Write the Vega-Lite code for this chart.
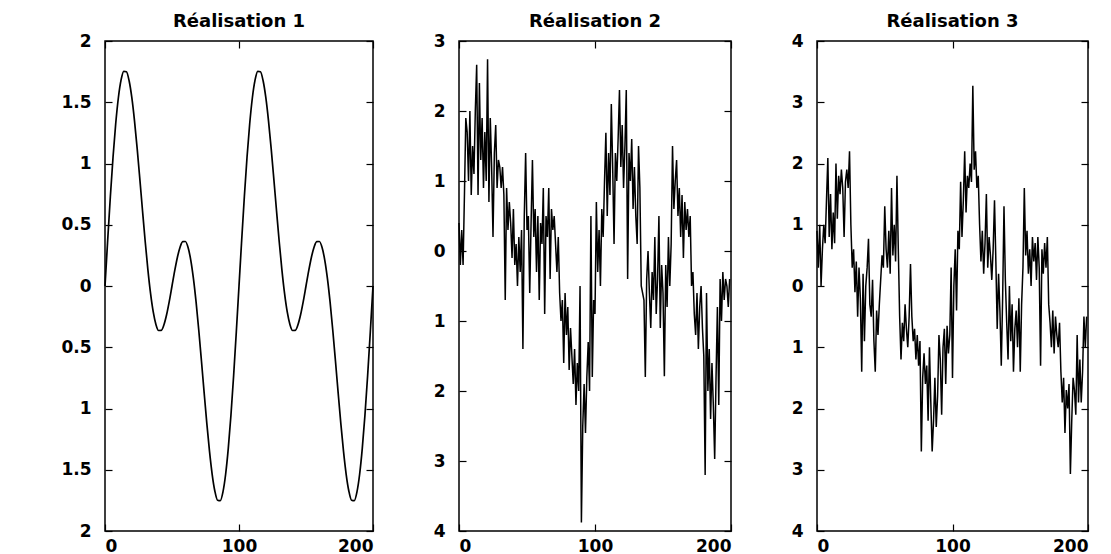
{
"$schema":"https://vega.github.io/schema/vega-lite/v6.json",
"background":"white",
"padding":{"left":60,"top":12,"right":10,"bottom":2},
"bounds":"flush",
"spacing":86,
"config":{
 "view":{"stroke":"black","strokeWidth":1.5},
 "axis":{"domain":false,"grid":false,"title":null,"tickColor":"black","tickSize":-7,"tickWidth":1.2,"labelFont":"DejaVu Sans","labelFontWeight":"bold","labelFontSize":17,"labelColor":"black","labelPadding":21},
 "title":{"font":"DejaVu Sans","fontWeight":"bold","fontSize":18,"color":"black","offset":1,"anchor":"middle"}
},
"datasets":{
"p1":[{"t":0,"v":0},{"t":2,"v":0.374},{"t":4,"v":0.7305},{"t":6,"v":1.0526},{"t":8,"v":1.3261},{"t":10,"v":1.5389},{"t":12,"v":1.6825},{"t":14,"v":1.7528},{"t":16,"v":1.7491},{"t":18,"v":1.6753},{"t":20,"v":1.5389},{"t":22,"v":1.3504},{"t":24,"v":1.1233},{"t":26,"v":0.8727},{"t":28,"v":0.6142},{"t":30,"v":0.3633},{"t":32,"v":0.1343},{"t":34,"v":-0.0605},{"t":36,"v":-0.2118},{"t":38,"v":-0.3135},{"t":40,"v":-0.3633},{"t":42,"v":-0.3625},{"t":44,"v":-0.3164},{"t":46,"v":-0.2331},{"t":48,"v":-0.1234},{"t":50,"v":0},{"t":52,"v":0.1234},{"t":54,"v":0.2331},{"t":56,"v":0.3164},{"t":58,"v":0.3625},{"t":60,"v":0.3633},{"t":62,"v":0.3135},{"t":64,"v":0.2118},{"t":66,"v":0.0605},{"t":68,"v":-0.1343},{"t":70,"v":-0.3633},{"t":72,"v":-0.6142},{"t":74,"v":-0.8727},{"t":76,"v":-1.1233},{"t":78,"v":-1.3504},{"t":80,"v":-1.5389},{"t":82,"v":-1.6753},{"t":84,"v":-1.7491},{"t":86,"v":-1.7528},{"t":88,"v":-1.6825},{"t":90,"v":-1.5389},{"t":92,"v":-1.3261},{"t":94,"v":-1.0526},{"t":96,"v":-0.7305},{"t":98,"v":-0.374},
{"t":100,"v":0},{"t":102,"v":0.374},{"t":104,"v":0.7305},{"t":106,"v":1.0526},{"t":108,"v":1.3261},{"t":110,"v":1.5389},{"t":112,"v":1.6825},{"t":114,"v":1.7528},{"t":116,"v":1.7491},{"t":118,"v":1.6753},{"t":120,"v":1.5389},{"t":122,"v":1.3504},{"t":124,"v":1.1233},{"t":126,"v":0.8727},{"t":128,"v":0.6142},{"t":130,"v":0.3633},{"t":132,"v":0.1343},{"t":134,"v":-0.0605},{"t":136,"v":-0.2118},{"t":138,"v":-0.3135},{"t":140,"v":-0.3633},{"t":142,"v":-0.3625},{"t":144,"v":-0.3164},{"t":146,"v":-0.2331},{"t":148,"v":-0.1234},{"t":150,"v":0},{"t":152,"v":0.1234},{"t":154,"v":0.2331},{"t":156,"v":0.3164},{"t":158,"v":0.3625},{"t":160,"v":0.3633},{"t":162,"v":0.3135},{"t":164,"v":0.2118},{"t":166,"v":0.0605},{"t":168,"v":-0.1343},{"t":170,"v":-0.3633},{"t":172,"v":-0.6142},{"t":174,"v":-0.8727},{"t":176,"v":-1.1233},{"t":178,"v":-1.3504},{"t":180,"v":-1.5389},{"t":182,"v":-1.6753},{"t":184,"v":-1.7491},{"t":186,"v":-1.7528},{"t":188,"v":-1.6825},{"t":190,"v":-1.5389},{"t":192,"v":-1.3261},{"t":194,"v":-1.0526},{"t":196,"v":-0.7305},{"t":198,"v":-0.374},{"t":200,"v":0}],
"p2":[{"t":0,"v":0.4},{"t":1,"v":-0.2},{"t":2,"v":0.3},{"t":3,"v":-0.2},{"t":4,"v":0.8},{"t":5,"v":1.9},{"t":6,"v":1.7},{"t":7,"v":1.0},{"t":8,"v":2.0},{"t":9,"v":0.8},
{"t":10,"v":1.5},{"t":11,"v":1.1},{"t":12,"v":2.0},{"t":13,"v":2.66},{"t":14,"v":0.8},{"t":15,"v":2.4},{"t":16,"v":1.3},{"t":17,"v":1.9},{"t":18,"v":0.9},{"t":19,"v":1.7},
{"t":20,"v":1.0},{"t":21,"v":2.74},{"t":22,"v":0.7},{"t":23,"v":1.9},{"t":24,"v":1.2},{"t":25,"v":0.2},{"t":26,"v":1.4},{"t":27,"v":1.8},{"t":28,"v":0.9},{"t":29,"v":1.3},
{"t":30,"v":1.2},{"t":31,"v":0.9},{"t":32,"v":1.2},{"t":33,"v":0.8},{"t":34,"v":-0.7},{"t":35,"v":0.9},{"t":36,"v":0.3},{"t":37,"v":0.7},{"t":38,"v":0.4},{"t":39,"v":-0.1},
{"t":40,"v":0.6},{"t":41,"v":-0.2},{"t":42,"v":0.1},{"t":43,"v":-0.5},{"t":44,"v":0.2},{"t":45,"v":-0.3},{"t":46,"v":0.3},{"t":47,"v":-1.4},{"t":48,"v":0.5},{"t":49,"v":1.4},
{"t":50,"v":0.3},{"t":51,"v":0.5},{"t":52,"v":-0.6},{"t":53,"v":0.4},{"t":54,"v":1.3},{"t":55,"v":0.2},{"t":56,"v":0.6},{"t":57,"v":-0.3},{"t":58,"v":0.5},{"t":59,"v":-0.7},
{"t":60,"v":0.4},{"t":61,"v":0.1},{"t":62,"v":0.9},{"t":63,"v":-0.9},{"t":64,"v":0.5},{"t":65,"v":0.2},{"t":66,"v":0.9},{"t":67,"v":-0.4},{"t":68,"v":0.6},{"t":69,"v":0.3},
{"t":70,"v":0.5},{"t":71,"v":0.1},{"t":72,"v":-0.3},{"t":73,"v":0.2},{"t":74,"v":-0.6},{"t":75,"v":-1.0},{"t":76,"v":-0.7},{"t":77,"v":-1.6},{"t":78,"v":-0.6},{"t":79,"v":-1.2},
{"t":80,"v":-0.8},{"t":81,"v":-1.7},{"t":82,"v":-1.1},{"t":83,"v":-1.5},{"t":84,"v":-1.9},{"t":85,"v":-1.4},{"t":86,"v":-2.2},{"t":87,"v":-1.6},{"t":88,"v":-2.0},{"t":89,"v":-0.5},
{"t":90,"v":-3.88},{"t":91,"v":-2.5},{"t":92,"v":-1.9},{"t":93,"v":-2.6},{"t":94,"v":-1.8},{"t":95,"v":-1.3},{"t":96,"v":-2.0},{"t":97,"v":0.5},{"t":98,"v":-1.8},{"t":99,"v":-0.7},
{"t":100,"v":-0.9},{"t":101,"v":0.7},{"t":102,"v":-0.3},{"t":103,"v":0.3},{"t":104,"v":-0.5},{"t":105,"v":0.6},{"t":106,"v":0.2},{"t":107,"v":1.0},{"t":108,"v":1.69},{"t":109,"v":0.5},
{"t":110,"v":1.4},{"t":111,"v":0.8},{"t":112,"v":2.1},{"t":113,"v":1.2},{"t":114,"v":0.1},{"t":115,"v":1.4},{"t":116,"v":1.0},{"t":117,"v":1.6},{"t":118,"v":2.3},{"t":119,"v":1.2},
{"t":120,"v":1.8},{"t":121,"v":0.9},{"t":122,"v":1.5},{"t":123,"v":2.3},{"t":124,"v":-0.4},{"t":125,"v":1.4},{"t":126,"v":1.0},{"t":127,"v":1.6},{"t":128,"v":0.6},{"t":129,"v":1.2},
{"t":130,"v":0.5},{"t":131,"v":0.1},{"t":132,"v":1.5},{"t":133,"v":0.9},{"t":134,"v":-0.5},{"t":135,"v":-0.6},{"t":136,"v":-0.7},{"t":137,"v":-1.8},{"t":138,"v":-0.4},{"t":139,"v":0.0},
{"t":140,"v":-0.6},{"t":141,"v":-1.1},{"t":142,"v":-0.3},{"t":143,"v":-0.7},{"t":144,"v":0.2},{"t":145,"v":-0.9},{"t":146,"v":-0.4},{"t":147,"v":0.5},{"t":148,"v":-1.1},{"t":149,"v":-0.2},
{"t":150,"v":-0.6},{"t":151,"v":-1.79},{"t":152,"v":-0.2},{"t":153,"v":-0.8},{"t":154,"v":0.2},{"t":155,"v":-0.5},{"t":156,"v":0.1},{"t":157,"v":1.5},{"t":158,"v":0.6},{"t":159,"v":1.0},
{"t":160,"v":1.3},{"t":161,"v":0.5},{"t":162,"v":0.9},{"t":163,"v":0.2},{"t":164,"v":0.8},{"t":165,"v":-0.1},{"t":166,"v":0.7},{"t":167,"v":0.3},{"t":168,"v":0.6},{"t":169,"v":0.2},
{"t":170,"v":0.5},{"t":171,"v":-0.5},{"t":172,"v":-0.3},{"t":173,"v":-0.9},{"t":174,"v":-1.2},{"t":175,"v":-0.6},{"t":176,"v":-1.4},{"t":177,"v":-0.8},{"t":178,"v":-0.5},{"t":179,"v":-1.1},
{"t":180,"v":-1.5},{"t":181,"v":-3.2},{"t":182,"v":-0.6},{"t":183,"v":-2.0},{"t":184,"v":-1.4},{"t":185,"v":-2.4},{"t":186,"v":-1.6},{"t":187,"v":-2.2},{"t":188,"v":-2.97},{"t":189,"v":-1.8},
{"t":190,"v":-0.8},{"t":191,"v":-2.2},{"t":192,"v":-0.4},{"t":193,"v":-1.0},{"t":194,"v":-0.3},{"t":195,"v":-0.7},{"t":196,"v":-0.4},{"t":197,"v":-0.5},{"t":198,"v":-0.8},{"t":199,"v":-0.4}],
"p3":[{"t":0,"v":0.9},{"t":1,"v":0.3},{"t":2,"v":1.0},{"t":3,"v":0.0},{"t":4,"v":0.6},{"t":5,"v":1.0},{"t":6,"v":0.7},{"t":7,"v":1.4},{"t":8,"v":2.09},{"t":9,"v":0.8},
{"t":10,"v":1.5},{"t":11,"v":0.6},{"t":12,"v":1.2},{"t":13,"v":0.7},{"t":14,"v":2.0},{"t":15,"v":1.1},{"t":16,"v":1.8},{"t":17,"v":1.5},{"t":18,"v":1.9},{"t":19,"v":1.6},
{"t":20,"v":0.8},{"t":21,"v":1.7},{"t":22,"v":1.9},{"t":23,"v":1.6},{"t":24,"v":2.2},{"t":25,"v":1.0},{"t":26,"v":0.3},{"t":27,"v":0.6},{"t":28,"v":-0.1},{"t":29,"v":0.4},
{"t":30,"v":-0.5},{"t":31,"v":0.3},{"t":32,"v":-0.2},{"t":33,"v":-1.4},{"t":34,"v":0.2},{"t":35,"v":-0.9},{"t":36,"v":0.0},{"t":37,"v":0.3},{"t":38,"v":0.77},{"t":39,"v":-0.3},
{"t":40,"v":-0.5},{"t":41,"v":0.1},{"t":42,"v":-0.9},{"t":43,"v":-1.4},{"t":44,"v":-0.4},{"t":45,"v":-0.8},{"t":46,"v":-0.3},{"t":47,"v":0.1},{"t":48,"v":0.5},{"t":49,"v":0.3},
{"t":50,"v":1.3},{"t":51,"v":0.6},{"t":52,"v":0.3},{"t":53,"v":0.9},{"t":54,"v":0.2},{"t":55,"v":1.6},{"t":56,"v":0.5},{"t":57,"v":1.0},{"t":58,"v":0.4},{"t":59,"v":1.8},
{"t":60,"v":0.6},{"t":61,"v":-0.5},{"t":62,"v":-1.2},{"t":63,"v":-0.6},{"t":64,"v":-0.9},{"t":65,"v":-0.3},{"t":66,"v":-0.7},{"t":67,"v":-1.0},{"t":68,"v":-0.5},{"t":69,"v":0.36},
{"t":70,"v":-0.5},{"t":71,"v":-0.9},{"t":72,"v":-0.7},{"t":73,"v":-1.2},{"t":74,"v":-0.8},{"t":75,"v":-1.3},{"t":76,"v":-0.9},{"t":77,"v":-2.7},{"t":78,"v":-1.5},{"t":79,"v":-1.1},
{"t":80,"v":-1.6},{"t":81,"v":-1.3},{"t":82,"v":-2.2},{"t":83,"v":-1.0},{"t":84,"v":-1.9},{"t":85,"v":-2.7},{"t":86,"v":-2.2},{"t":87,"v":-1.5},{"t":88,"v":-2.3},{"t":89,"v":-1.8},
{"t":90,"v":-0.8},{"t":91,"v":-1.2},{"t":92,"v":-2.1},{"t":93,"v":-1.0},{"t":94,"v":-0.7},{"t":95,"v":-1.6},{"t":96,"v":-0.65},{"t":97,"v":-1.1},{"t":98,"v":-0.8},{"t":99,"v":0.3},
{"t":100,"v":-1.5},{"t":101,"v":0.0},{"t":102,"v":0.6},{"t":103,"v":-0.4},{"t":104,"v":0.9},{"t":105,"v":0.6},{"t":106,"v":1.7},{"t":107,"v":0.8},{"t":108,"v":1.4},{"t":109,"v":2.2},
{"t":110,"v":1.2},{"t":111,"v":1.8},{"t":112,"v":1.6},{"t":113,"v":2.0},{"t":114,"v":1.7},{"t":115,"v":3.27},{"t":116,"v":1.9},{"t":117,"v":2.2},{"t":118,"v":1.6},{"t":119,"v":1.8},
{"t":120,"v":1.0},{"t":121,"v":0.4},{"t":122,"v":0.9},{"t":123,"v":0.2},{"t":124,"v":0.7},{"t":125,"v":1.5},{"t":126,"v":0.3},{"t":127,"v":0.8},{"t":128,"v":0.5},{"t":129,"v":0.1},
{"t":130,"v":0.6},{"t":131,"v":1.4},{"t":132,"v":0.4},{"t":133,"v":-0.7},{"t":134,"v":0.2},{"t":135,"v":-0.4},{"t":136,"v":-1.3},{"t":137,"v":-0.2},{"t":138,"v":1.3},{"t":139,"v":0.1},
{"t":140,"v":-0.6},{"t":141,"v":-1.2},{"t":142,"v":0.0},{"t":143,"v":-0.9},{"t":144,"v":-0.3},{"t":145,"v":-1.4},{"t":146,"v":-0.7},{"t":147,"v":-0.4},{"t":148,"v":-1.0},{"t":149,"v":-0.2},
{"t":150,"v":-1.4},{"t":151,"v":-0.3},{"t":152,"v":0.3},{"t":153,"v":1.6},{"t":154,"v":0.5},{"t":155,"v":0.9},{"t":156,"v":0.2},{"t":157,"v":0.6},{"t":158,"v":0.0},{"t":159,"v":0.8},
{"t":160,"v":0.4},{"t":161,"v":0.7},{"t":162,"v":0.1},{"t":163,"v":0.8},{"t":164,"v":0.3},{"t":165,"v":-1.3},{"t":166,"v":0.6},{"t":167,"v":0.2},{"t":168,"v":0.7},{"t":169,"v":0.3},
{"t":170,"v":0.8},{"t":171,"v":-0.3},{"t":172,"v":-0.6},{"t":173,"v":-1.0},{"t":174,"v":-0.4},{"t":175,"v":-1.1},{"t":176,"v":-0.5},{"t":177,"v":-0.8},{"t":178,"v":-1.0},{"t":179,"v":-0.6},
{"t":180,"v":-1.4},{"t":181,"v":-1.9},{"t":182,"v":-1.5},{"t":183,"v":-2.4},{"t":184,"v":-1.7},{"t":185,"v":-2.0},{"t":186,"v":-1.6},{"t":187,"v":-3.07},{"t":188,"v":-2.2},{"t":189,"v":-1.5},
{"t":190,"v":-1.7},{"t":191,"v":-2.1},{"t":192,"v":-0.8},{"t":193,"v":-1.9},{"t":194,"v":-1.2},{"t":195,"v":-1.9},{"t":196,"v":-1.4},{"t":197,"v":-0.5},{"t":198,"v":-1.0},{"t":199,"v":-0.5}]
},
"hconcat":[
{"width":268,"height":490,"title":"Réalisation 1","data":{"name":"p1"},
 "layer":[
  {"mark":{"type":"line","color":"black","strokeWidth":1.7,"interpolate":"monotone"},
   "encoding":{"x":{"field":"t","type":"quantitative","scale":{"domain":[0,200],"nice":false},"axis":{"orient":"bottom","values":[0,100,200],"labelPadding":14}},
    "y":{"field":"v","type":"quantitative","scale":{"domain":[-2,2],"nice":false,"zero":false},"axis":{"orient":"left","values":[-2,-1.5,-1,-0.5,0,0.5,1,1.5,2],"labelExpr":"format(abs(datum.value),'~g')"}}}},
  {"mark":{"type":"line","opacity":0},
   "encoding":{"x":{"field":"t","type":"quantitative","axis":{"orient":"top","values":[0,100,200],"labels":false}},
    "y":{"field":"v","type":"quantitative","axis":{"orient":"right","values":[-2,-1.5,-1,-0.5,0,0.5,1,1.5,2],"labels":false}}}}
 ],
 "resolve":{"axis":{"x":"independent","y":"independent"}}},
{"width":272,"height":490,"title":"Réalisation 2","data":{"name":"p2"},
 "layer":[
  {"mark":{"type":"line","color":"black","strokeWidth":1.5},
   "encoding":{"x":{"field":"t","type":"quantitative","scale":{"domain":[0,200],"nice":false},"axis":{"orient":"bottom","values":[0,100,200],"labelPadding":14}},
    "y":{"field":"v","type":"quantitative","scale":{"domain":[-4,3],"nice":false,"zero":false},"axis":{"orient":"left","values":[-4,-3,-2,-1,0,1,2,3],"labelExpr":"format(abs(datum.value),'~g')"}}}},
  {"mark":{"type":"line","opacity":0},
   "encoding":{"x":{"field":"t","type":"quantitative","axis":{"orient":"top","values":[0,100,200],"labels":false}},
    "y":{"field":"v","type":"quantitative","axis":{"orient":"right","values":[-4,-3,-2,-1,0,1,2,3],"labels":false}}}}
 ],
 "resolve":{"axis":{"x":"independent","y":"independent"}}},
{"width":271,"height":490,"title":"Réalisation 3","data":{"name":"p3"},
 "layer":[
  {"mark":{"type":"line","color":"black","strokeWidth":1.5},
   "encoding":{"x":{"field":"t","type":"quantitative","scale":{"domain":[0,200],"nice":false},"axis":{"orient":"bottom","values":[0,100,200],"labelPadding":14}},
    "y":{"field":"v","type":"quantitative","scale":{"domain":[-4,4],"nice":false,"zero":false},"axis":{"orient":"left","values":[-4,-3,-2,-1,0,1,2,3,4],"labelExpr":"format(abs(datum.value),'~g')"}}}},
  {"mark":{"type":"line","opacity":0},
   "encoding":{"x":{"field":"t","type":"quantitative","axis":{"orient":"top","values":[0,100,200],"labels":false}},
    "y":{"field":"v","type":"quantitative","axis":{"orient":"right","values":[-4,-3,-2,-1,0,1,2,3,4],"labels":false}}}}
 ],
 "resolve":{"axis":{"x":"independent","y":"independent"}}}
]
}
